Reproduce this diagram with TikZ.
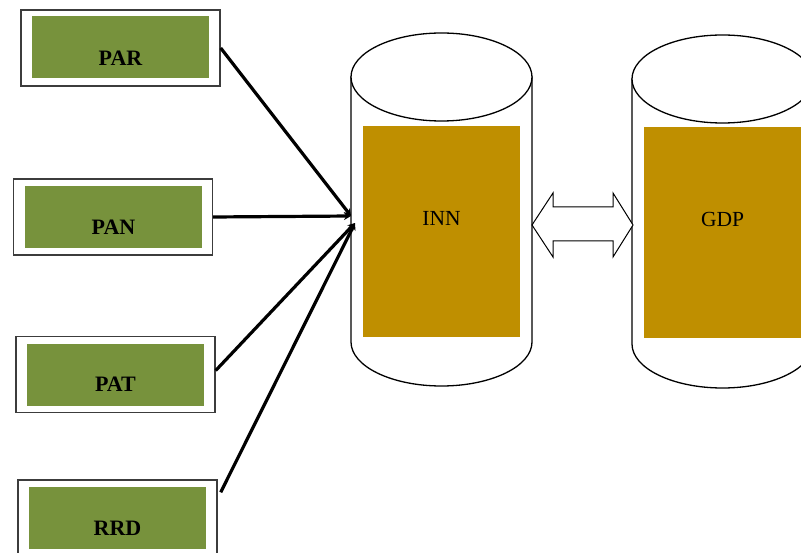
\documentclass[tikz,border=0pt]{standalone}
\usepackage{fontspec}
\setmainfont{Liberation Serif}
\usetikzlibrary{arrows.meta,calc}
\definecolor{boxgreen}{RGB}{119,146,60}
\definecolor{gold}{RGB}{191,143,0}
\definecolor{edgegray}{RGB}{60,60,60}
\begin{document}
\begin{tikzpicture}[x=1pt,y=1pt,
  outerbox/.style={draw=edgegray,line width=1.4pt,fill=white,minimum width=199pt,minimum height=76pt,inner sep=0pt},
  innerbox/.style={fill=boxgreen,minimum width=177pt,minimum height=62pt,inner sep=0pt},
  blabel/.style={font=\fontsize{22}{26}\selectfont\bfseries,inner sep=0pt},
  clabel/.style={font=\fontsize{21.5}{25}\selectfont,inner sep=0pt},
  goldbox/.style={fill=gold,minimum width=157pt,minimum height=211pt,inner sep=0pt},
  cyl/.style={draw=black,line width=1.3pt,fill=white},
  conn/.style={draw=black,line width=3.2pt,-{Stealth[length=7pt,width=8pt]}},
  dblarrow/.style={draw=black,line width=1pt,fill=white,line join=miter}]
\useasboundingbox (0,0) rectangle (801,-553);
\clip (0,0) rectangle (801,-553);
% left boxes
\node[outerbox] (paro) at (120.5,-48) {};
\node[innerbox] (pari) at (120.5,-47.5) {};
\node[blabel] (part) at (120.5,-58) {PAR};
\node[outerbox] (pano) at (113,-217) {};
\node[innerbox] (pani) at (113.5,-217) {};
\node[blabel] (pant) at (113.5,-227) {PAN};
\node[outerbox] (pato) at (115.5,-374.5) {};
\node[innerbox] (pati) at (115.5,-375) {};
\node[blabel] (patt) at (115.5,-384) {PAT};
\node[outerbox] (rrdo) at (117.5,-518) {};
\node[innerbox] (rrdi) at (117.5,-518) {};
\node[blabel] (rrdt) at (117.5,-528) {RRD};
% INN cylinder
\path[cyl] (351,-77) -- (351,-342) arc[start angle=180,end angle=360,x radius=90.5,y radius=44] -- (532,-77) -- cycle;
\draw[cyl] (441.5,-77) ellipse[x radius=90.5,y radius=44];
\node[goldbox] (innbox) at (441.5,-231.5) {};
\node[clabel] (innt) at (441.5,-218) {INN};
% GDP cylinder
\path[cyl] (632,-79) -- (632,-344) arc[start angle=180,end angle=360,x radius=90.5,y radius=44] -- (813,-79) -- cycle;
\draw[cyl] (722.5,-79) ellipse[x radius=90.5,y radius=44];
\node[goldbox] (gdpbox) at (722.5,-232.5) {};
\node[clabel] (gdpt) at (722.5,-219) {GDP};
% double arrow
\draw[dblarrow] (532,-225) -- (553,-193) -- (553,-207) -- (613,-207) -- (613,-193) -- (633,-225) -- (613,-257) -- (613,-241) -- (553,-241) -- (553,-257) -- cycle;
% hubs
\coordinate (hubA) at (351,-216);
\coordinate (hubB) at (355,-223);
\draw[conn] (paro.east) -- (hubA);
\draw[conn] (pano.east) -- (hubA);
\draw[conn] ([yshift=4pt]pato.east) -- (hubB);
\draw[conn] ([xshift=3pt,yshift=-13pt]rrdo.north east) -- (hubB);
\end{tikzpicture}
\end{document}
